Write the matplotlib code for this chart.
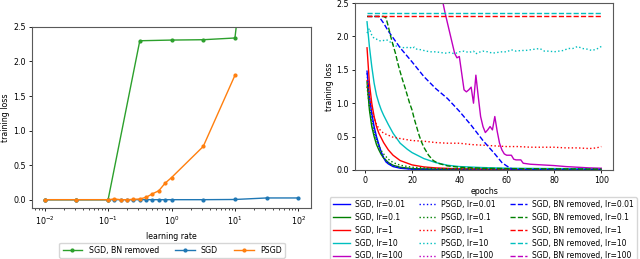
import numpy as np
import matplotlib
matplotlib.use("Agg")
from matplotlib import pyplot as plt

plt.rcParams['font.size'] = 5.7
plt.rcParams['axes.edgecolor'] = '0.35'

# ---- left panel: final training loss vs learning rate ----
lr_bn = [0.01, 0.0316, 0.1, 0.316, 1.0, 3.16, 10.0, 31.6, 100.0]
loss_bn = [0.0, 0.0, 0.0, 2.30, 2.31, 2.315, 2.34, 6.3, 6.5]

lr_fine = [0.01, 0.0316, 0.1, 0.126, 0.158, 0.2, 0.251, 0.316, 0.398,
           0.501, 0.631, 0.794, 1.0, 3.16, 10.0, 31.6, 100.0]
loss_sgd = [0.0, 0.0, 0.0, 0.0, 0.0, 0.0, 0.0, 0.0, 0.0,
            0.0, 0.0, 0.0, 0.0, 0.0, 0.003, 0.025, 0.025]
lr_psgd = lr_fine[:15]
loss_psgd = [0.0, 0.0, 0.0, 0.01, 0.0, 0.0, 0.005, 0.01, 0.035,
             0.085, 0.13, 0.24, 0.32, 0.77, 1.80]

# ---- right panel: training loss vs epochs ----
# SGD
ep_sgd_001 = [1, 2, 3, 4, 5, 6, 7, 8, 9, 10, 12, 15, 20, 30, 100]
sgd_001 = [1.48, 1.1, 0.85, 0.65, 0.5, 0.38, 0.27, 0.18, 0.12, 0.09, 0.05, 0.025, 0.01, 0.006, 0.004]
ep_sgd_01 = [1, 2, 3, 4, 5, 6, 7, 8, 10, 12, 15, 20, 30, 100]
sgd_01 = [1.32, 0.9, 0.65, 0.5, 0.38, 0.3, 0.23, 0.18, 0.11, 0.07, 0.04, 0.02, 0.01, 0.005]
ep_sgd_1 = [1, 2, 3, 4, 5, 6, 7, 8, 10, 12, 15, 20, 25, 30, 40, 60, 100]
sgd_1 = [1.83, 1.3, 1.0, 0.8, 0.65, 0.55, 0.48, 0.41, 0.3, 0.22, 0.14, 0.075, 0.045, 0.03, 0.015, 0.01, 0.005]
ep_sgd_10 = [1, 2, 3, 4, 5, 6, 7, 8, 10, 12, 15, 18, 20, 25, 30, 35, 40, 50, 60, 80, 100]
sgd_10 = [2.22, 1.85, 1.55, 1.3, 1.12, 1.0, 0.9, 0.82, 0.68, 0.55, 0.40, 0.31, 0.26, 0.17, 0.11, 0.07, 0.05, 0.035, 0.025, 0.02, 0.015]
ep_sgd_100 = [30, 32, 33, 34, 35, 36, 37, 38, 39, 40, 41, 42, 43, 44, 45, 46, 47, 48, 49, 50,
              51, 52, 53, 54, 55, 56, 57, 58, 59, 60, 61, 62, 63, 64, 65, 66, 67, 70, 75, 80,
              85, 90, 95, 100]
sgd_100 = [3.2, 2.72, 2.52, 2.35, 2.2, 2.05, 1.9, 1.75, 1.68, 1.7, 1.45, 1.2, 1.17, 1.2, 1.24, 1.0, 1.42, 1.1, 0.8, 0.65,
           0.56, 0.6, 0.65, 0.6, 0.8, 0.58, 0.4, 0.3, 0.24, 0.22, 0.22, 0.22, 0.16, 0.15, 0.15, 0.15, 0.1, 0.085, 0.075, 0.065,
           0.05, 0.04, 0.03, 0.025]

# PSGD
ep_psgd_001 = [1, 2, 3, 4, 5, 6, 7, 8, 10, 12, 15, 20, 30, 100]
psgd_001 = [1.45, 1.05, 0.8, 0.6, 0.46, 0.35, 0.26, 0.19, 0.1, 0.06, 0.03, 0.015, 0.008, 0.005]
ep_psgd_01 = [1, 2, 3, 4, 5, 6, 7, 8, 10, 12, 15, 20, 30, 50, 100]
psgd_01 = [1.25, 0.95, 0.72, 0.56, 0.45, 0.36, 0.29, 0.24, 0.16, 0.11, 0.07, 0.04, 0.02, 0.015, 0.01]
ep_psgd_1 = [1, 2, 3, 4, 5, 6, 7, 8, 10, 12, 15, 20, 25, 30, 35, 40, 45, 50, 55, 60,
             65, 70, 75, 80, 85, 90, 95, 98, 100]
psgd_1 = [1.35, 1.1, 0.92, 0.78, 0.68, 0.62, 0.58, 0.55, 0.52, 0.49, 0.47, 0.44, 0.43, 0.41, 0.40, 0.40, 0.38, 0.37, 0.36, 0.35,
          0.35, 0.34, 0.34, 0.34, 0.33, 0.33, 0.32, 0.33, 0.35]
ep_psgd_10 = [1, 2, 3, 4, 5, 6, 7, 8, 9, 10, 11, 12, 13, 14, 15, 17, 19, 20, 21, 22,
              24, 26, 28, 30, 32, 34, 36, 38, 40, 42, 44, 46, 47, 48, 50, 52, 54, 56, 58, 60,
              62, 64, 66, 68, 70, 72, 74, 76, 78, 80, 82, 84, 86, 88, 90, 92, 94, 96, 98, 100]
psgd_10 = [2.05, 2.12, 2.02, 1.97, 1.96, 1.94, 1.93, 1.94, 1.95, 1.94, 1.91, 1.88, 1.86, 1.85, 1.84, 1.83, 1.84, 1.82, 1.84, 1.81,
           1.80, 1.78, 1.77, 1.77, 1.76, 1.75, 1.76, 1.74, 1.77, 1.78, 1.76, 1.78, 1.74, 1.76, 1.78, 1.77, 1.75, 1.76, 1.77, 1.77,
           1.80, 1.78, 1.79, 1.79, 1.80, 1.81, 1.82, 1.78, 1.78, 1.77, 1.78, 1.79, 1.82, 1.82, 1.85, 1.82, 1.81, 1.79, 1.81, 1.85]
ep_psgd_100 = [1, 100]
psgd_100 = [np.nan, np.nan]

# SGD, BN removed
ep_bn_001 = [1, 6, 8, 10, 12, 15, 20, 25, 30, 35, 40, 45, 50, 55, 58, 60, 62, 63, 65, 100]
bn_001 = [2.30, 2.30, 2.2, 2.08, 1.98, 1.83, 1.62, 1.40, 1.22, 1.07, 0.88, 0.67, 0.44, 0.24, 0.11, 0.06, 0.02, 0.01, 0.005, 0.003]
ep_bn_01 = [1, 8, 9, 10, 11, 12, 13, 14, 15, 16, 17, 18, 19, 20, 21, 22, 23, 24, 25, 27,
            29, 31, 35, 40, 50, 60, 100]
bn_01 = [2.30, 2.30, 2.28, 2.15, 2.0, 1.87, 1.75, 1.6, 1.47, 1.35, 1.24, 1.12, 1.0, 0.9, 0.76, 0.64, 0.52, 0.42, 0.34, 0.22,
         0.14, 0.1, 0.06, 0.04, 0.025, 0.02, 0.01]
ep_bn_1 = [1, 100]
bn_1 = [2.305, 2.305]
ep_bn_10 = [1, 100]
bn_10 = [2.35, 2.35]
ep_bn_100 = [1, 100]
bn_100 = [np.nan, np.nan]

lr_names = ['0.01', '0.1', '1', '10', '100']
colors = ['b', 'g', 'r', 'c', 'm']
sgd_runs = [(ep_sgd_001, sgd_001), (ep_sgd_01, sgd_01), (ep_sgd_1, sgd_1),
            (ep_sgd_10, sgd_10), (ep_sgd_100, sgd_100)]
psgd_runs = [(ep_psgd_001, psgd_001), (ep_psgd_01, psgd_01), (ep_psgd_1, psgd_1),
             (ep_psgd_10, psgd_10), (ep_psgd_100, psgd_100)]
bn_runs = [(ep_bn_001, bn_001), (ep_bn_01, bn_01), (ep_bn_1, bn_1),
           (ep_bn_10, bn_10), (ep_bn_100, bn_100)]

fig = plt.figure(figsize=(6.4, 2.59), dpi=100)

# left
ax1 = fig.add_axes([0.05, 0.197, 0.436, 0.699])
ax1.plot(lr_bn, loss_bn, color='C2', marker='.', ms=4, lw=1, label='SGD, BN removed')
ax1.plot(lr_fine, loss_sgd, color='C0', marker='.', ms=4, lw=1, label='SGD')
ax1.plot(lr_psgd, loss_psgd, color='C1', marker='.', ms=4, lw=1, label='PSGD')
ax1.set_xscale('log')
ax1.set_ylim(-0.12, 2.5)
ax1.set_yticks([0.0, 0.5, 1.0, 1.5, 2.0, 2.5])
ax1.set_xlabel('learning rate')
ax1.set_ylabel('training loss', labelpad=2)
ax1.tick_params(length=2.5, width=0.6, pad=2)
ax1.tick_params(which='minor', length=1.5, width=0.5)
ax1.legend(loc='upper center', bbox_to_anchor=(0.269, 0.063), bbox_transform=fig.transFigure,
           ncol=3, fontsize=5.7, borderaxespad=0, columnspacing=2.0, handlelength=2.5)

# right
ax2 = fig.add_axes([0.555, 0.344, 0.403, 0.644])
handles = []
for (ep, v), c, n in zip(sgd_runs, colors, lr_names):
    h, = ax2.plot(ep, v, color=c, lw=1, ls='-', label='SGD, lr=' + n)
    handles.append(h)
for (ep, v), c, n in zip(psgd_runs, colors, lr_names):
    h, = ax2.plot(ep, v, color=c, lw=1, ls=':', label='PSGD, lr=' + n)
    handles.append(h)
for (ep, v), c, n in zip(bn_runs, colors, lr_names):
    h, = ax2.plot(ep, v, color=c, lw=1, ls='--', label='SGD, BN removed, lr=' + n)
    handles.append(h)
ax2.set_xlim(-4, 105)
ax2.set_ylim(0, 2.5)
ax2.set_xticks([0, 20, 40, 60, 80, 100])
ax2.set_yticks([0.0, 0.5, 1.0, 1.5, 2.0, 2.5])
ax2.set_xlabel('epochs', labelpad=1)
ax2.set_ylabel('training loss', labelpad=2)
ax2.tick_params(length=2.5, width=0.6, pad=2)
ax2.legend(handles=handles, loc='upper center', bbox_to_anchor=(0.755, 0.239),
           bbox_transform=fig.transFigure, ncol=3, fontsize=5.5, borderaxespad=0,
           columnspacing=1.9, handlelength=2.2, handletextpad=0.65)

fig.savefig('out.png', dpi=100)
